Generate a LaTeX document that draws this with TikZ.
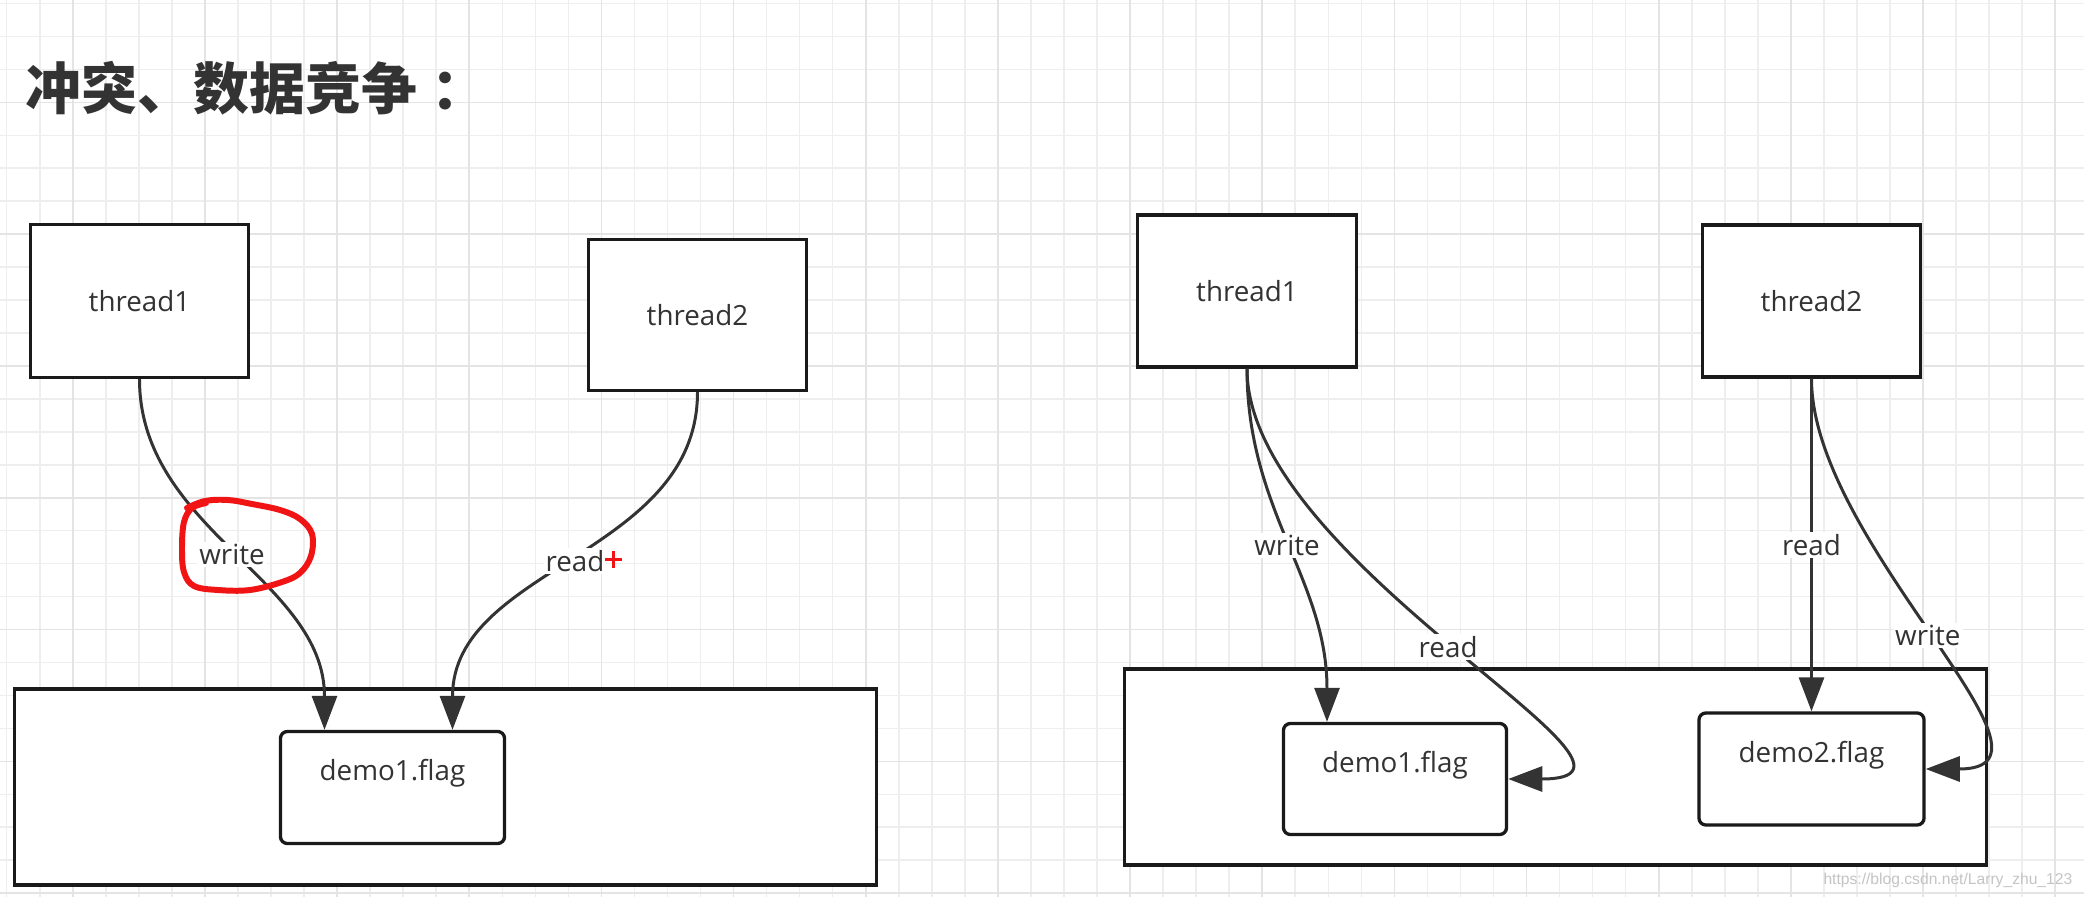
\documentclass[tikz,border=0pt]{standalone}
\usepackage{fontspec}
\setmainfont{Open Sans}
\newfontfamily\cjk{Noto Sans CJK SC}
\newfontfamily\wmfont{Liberation Sans}
\usetikzlibrary{arrows.meta,calc}
\definecolor{ink}{HTML}{333333}
\definecolor{boxline}{HTML}{1A1A1A}
\definecolor{gridminor}{HTML}{EEEEEE}
\definecolor{gridmajor}{HTML}{E4E4E4}
\definecolor{marker}{HTML}{F01414}
\definecolor{wmgray}{HTML}{C4C4C4}
\begin{document}
\begin{tikzpicture}[x=0.01cm,y=-0.01cm,
  thbox/.style={draw=boxline, fill=white, line width=0.94pt, inner sep=0pt,
    font=\fontsize{7.9pt}{9pt}\selectfont, text=ink},
  bigbox/.style={draw=boxline, fill=white, line width=0.94pt, inner sep=0pt},
  flagbox/.style={draw=boxline, fill=white, line width=0.94pt, inner sep=0pt, rounded corners=0.07cm},
  flagtext/.style={font=\fontsize{7.9pt}{9pt}\selectfont, text=ink, inner sep=0pt},
  conn/.style={draw=ink, line width=0.85pt, -{Triangle[length=0.34cm,width=0.25cm]}},
  lbl/.style={fill=white, inner sep=0.02cm, font=\fontsize{7.9pt}{9pt}\selectfont, text=ink},
]
\useasboundingbox (0,0) rectangle (2084,897);
\fill[white] (0,0) rectangle (2084,897);
% grid
\foreach \i in {0,...,62} {\draw[gridminor, line width=0.45pt] ({6.7+\i*33.04},0) -- ({6.7+\i*33.04},897);}
\foreach \j in {0,...,27} {\draw[gridminor, line width=0.45pt] (0,{3.5+\j*32.95}) -- (2084,{3.5+\j*32.95});}
\foreach \i in {2,6,...,62} {\draw[gridmajor, line width=0.45pt] ({6.7+\i*33.04},0) -- ({6.7+\i*33.04},897);}
\foreach \j in {3,7,...,27} {\draw[gridmajor, line width=0.45pt] (0,{3.5+\j*32.95}) -- (2084,{3.5+\j*32.95});}

% title
\node[anchor=west, inner sep=0pt, font=\cjk\bfseries\fontsize{15.9pt}{18pt}\selectfont, text=ink] (title) at (25,88) {冲突、数据竞争\kern0.25em：};

% ---------- left diagram ----------
\node[bigbox, minimum width=8.62cm, minimum height=1.96cm] (Lbig) at (445.5,787) {};
\node[flagbox, minimum width=2.24cm, minimum height=1.12cm] (Ld1) at (392.5,787.5) {};
\node[flagtext] (Ld1t) at ($(Ld1.center)+(0,-14)$) {demo1.flag};
\node[thbox, minimum width=2.18cm, minimum height=1.53cm] (Lt1) at (139.5,301) {thread1};
\node[thbox, minimum width=2.18cm, minimum height=1.51cm] (Lt2) at (697.5,315) {thread2};
\coordinate (Lw) at ($(Ld1.north)+(-68,0)$);
\coordinate (Lr) at ($(Ld1.north)+(60,0)$);
\draw[conn] (Lt1.south) .. controls +(0,150) and +(0,-150) .. node[lbl, pos=0.5] (Lwl) {write} (Lw);
\draw[conn] (Lt2.south) .. controls +(0,163) and +(0,-163) .. node[lbl, pos=0.5] (Lrl) {read} (Lr);
% red marker loop
\draw[marker, line width=1.7pt, line cap=round, line join=round]
  plot[smooth, tension=0.6] coordinates {(187,508) (205,501) (228,500) (252,504) (280,510) (300,519) (312,534) (311,556) (300,573) (282,582) (250,590) (218,590) (194,586) (184,572) (182,548) (184,522) (192,508) (206,503)};
% red plus
\draw[marker, line width=1.1pt] (605,559.5) -- (622,559.5);
\draw[marker, line width=1.1pt] (613.5,551) -- (613.5,568);

% ---------- right diagram ----------
\node[bigbox, minimum width=8.61cm, minimum height=1.96cm] (Rbig) at (1555.5,767) {};
\node[flagbox, minimum width=2.23cm, minimum height=1.11cm] (Rd1) at (1395,779) {};
\node[flagtext] (Rd1t) at ($(Rd1.center)+(0,-14)$) {demo1.flag};
\node[flagbox, minimum width=2.25cm, minimum height=1.12cm] (Rd2) at (1811.5,769) {};
\node[flagtext] (Rd2t) at ($(Rd2.center)+(0,-14)$) {demo2.flag};
\node[thbox, minimum width=2.19cm, minimum height=1.52cm] (Rt1) at (1247,291) {thread1};
\node[thbox, minimum width=2.18cm, minimum height=1.52cm] (Rt2) at (1811.5,301) {thread2};
\coordinate (Rw) at ($(Rd1.north)+(-68,0)$);
\draw[conn] (Rt1.south) .. controls +(0,142) and +(0,-142) .. node[lbl, pos=0.5] (Rwl) {write} (Rw);
\draw[conn] (Rt1.south) .. controls +(0,195) and +(188,0) .. node[lbl, pos=0.5] (Rrl) {read} (Rd1.east);
\draw[conn] (Rt2.south) -- node[lbl, pos=0.5] (Rr2l) {read} (Rd2.north);
\draw[conn] (Rt2.south) .. controls +(0,165) and +(158,0) .. node[lbl, pos=0.5] (Rw2l) {write} (Rd2.east);

% watermark
\node[anchor=base east, inner sep=0pt, font=\wmfont\fontsize{4.45pt}{5pt}\selectfont, text=wmgray] (wm) at (2073,884) {https://blog.csdn.net/Larry\_zhu\_123};
\end{tikzpicture}
\end{document}
